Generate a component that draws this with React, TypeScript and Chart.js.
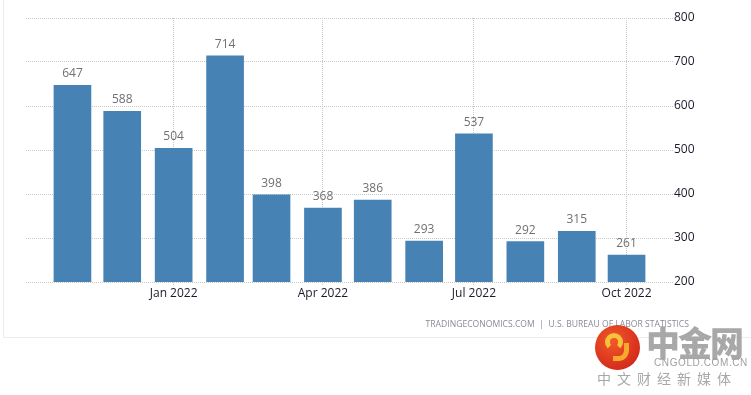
import React, { useEffect, useRef } from "react";
import { Chart, registerables } from "chart.js";

Chart.register(...registerables);

const months = ["2021-11", "2021-12", "2022-01", "2022-02", "2022-03", "2022-04", "2022-05", "2022-06", "2022-07", "2022-08", "2022-09", "2022-10"];
const values = [647, 588, 504, 714, 398, 368, 386, 293, 537, 292, 315, 261];
const tickMonths = ["2022-01", "2022-04", "2022-07", "2022-10"];
const tickLabels = ["Jan 2022", "Apr 2022", "Jul 2022", "Oct 2022"];
const yTicks = [200, 300, 400, 500, 600, 700, 800];
const sourceText = "TRADINGECONOMICS.COM  |  U.S. BUREAU OF LABOR STATISTICS";

const origin = Date.UTC(2021, 10, 1);
const dayOf = (m: string) => {
  const [y, mo] = m.split("-").map(Number);
  return Math.round((Date.UTC(y, mo - 1, 1) - origin) / 86400000);
};

const valueLabels = {
  id: "valueLabels",
  afterDatasetsDraw(chart: any) {
    const ctx = chart.ctx;
    const meta = chart.getDatasetMeta(0);
    ctx.save();
    ctx.font = "12px 'Open Sans', 'Noto Sans', sans-serif";
    ctx.fillStyle = "#707070";
    ctx.textAlign = "center";
    ctx.textBaseline = "alphabetic";
    meta.data.forEach((el: any, i: number) => {
      ctx.fillText(String(values[i]), el.x, el.y - 8);
    });
    ctx.restore();
  },
};

export default function App() {
  const ref = useRef<HTMLCanvasElement | null>(null);
  useEffect(() => {
    document.body.style.margin = "0";
    Chart.defaults.font.family = "'Open Sans', 'Noto Sans', sans-serif";
    const chart = new Chart(ref.current as HTMLCanvasElement, {
      type: "bar",
      data: {
        datasets: [
          {
            data: months.map((m, i) => ({ x: dayOf(m), y: values[i] })),
            backgroundColor: "#4682b4",
            barThickness: 37,
          },
        ],
      },
      options: {
        animation: false,
        responsive: false,
        events: [],
        layout: { padding: { left: 26, top: 18, right: 0, bottom: 0 } },
        plugins: { legend: { display: false }, tooltip: { enabled: false } },
        scales: {
          x: {
            type: "linear",
            min: -28,
            max: 362,
            offset: false,
            afterFit: (s: any) => {
              s.height = 113;
            },
            afterBuildTicks: (s: any) => {
              s.ticks = tickMonths.map((m) => ({ value: dayOf(m) }));
            },
            ticks: {
              autoSkip: false,
              maxRotation: 0,
              padding: 0,
              color: "#1a1a2a",
              font: { size: 12 },
              callback: (v: any) => {
                const idx = tickMonths.findIndex((m) => dayOf(m) === v);
                return idx >= 0 ? tickLabels[idx] : "";
              },
            },
            grid: {
              offset: false,
              color: "#c8c8c8",
              drawTicks: true,
              tickLength: 4,
              tickBorderDash: [1, 1],
            },
            border: { display: false, dash: [1, 1] },
          },
          y: {
            position: "right",
            min: 200,
            max: 800,
            afterFit: (s: any) => {
              s.width = 78;
            },
            afterBuildTicks: (s: any) => {
              s.ticks = yTicks.map((v) => ({ value: v }));
            },
            ticks: {
              padding: 1,
              color: "#1a1a2a",
              font: { size: 12 },
            },
            grid: { color: "#c8c8c8", drawTicks: false },
            border: { display: false, dash: [1, 1] },
          },
        },
      },
      plugins: [valueLabels],
    });
    return () => chart.destroy();
  }, []);

  return (
    <div style={{ position: "absolute", left: 0, top: 0, width: 751, height: 395, background: "#fff", overflow: "hidden" }}>
      <div style={{ position: "absolute", left: 3, top: -2, width: 800, height: 340, border: "1px solid #ececec", boxSizing: "border-box" }} />
      <canvas ref={ref} width={751} height={395} style={{ position: "absolute", left: 0, top: 0 }} />
      <div
        style={{
          position: "absolute",
          right: 62,
          top: 318,
          fontFamily: "'Open Sans', 'Noto Sans', sans-serif",
          fontSize: 8.6,
          letterSpacing: 0,
          color: "#8a8a98",
          whiteSpace: "pre",
        }}
      >
        {sourceText}
      </div>
      <div
        style={{
          position: "absolute",
          left: 595,
          top: 325,
          width: 45,
          height: 45,
          borderRadius: "50%",
          background: "radial-gradient(circle at 40% 35%, #f05a28, #d42a1c 75%)",
        }}
      >
        <div
          style={{
            position: "absolute",
            left: 10,
            top: 8,
            width: 18,
            height: 18,
            borderRadius: "50%",
            border: "5px solid #f7c23a",
            borderBottomColor: "transparent",
            boxSizing: "border-box",
          }}
        />
        <div
          style={{
            position: "absolute",
            left: 18,
            top: 18,
            width: 16,
            height: 18,
            borderRadius: "0 0 60% 0",
            borderRight: "5px solid #f7a82e",
            borderBottom: "5px solid #f7a82e",
            boxSizing: "border-box",
          }}
        />
      </div>
      <div
        style={{
          position: "absolute",
          left: 646,
          top: 322,
          fontFamily: "'Noto Sans CJK SC', sans-serif",
          fontWeight: 900,
          fontSize: 34,
          color: "#a8a8a8",
          letterSpacing: -2,
          whiteSpace: "nowrap",
          lineHeight: "40px",
        }}
      >
        中金网
      </div>
      <div
        style={{
          position: "absolute",
          left: 654,
          top: 357,
          fontFamily: "'Liberation Sans', sans-serif",
          fontSize: 10,
          color: "#a0a0a0",
          letterSpacing: 0.6,
          whiteSpace: "nowrap",
          lineHeight: "12px",
        }}
      >
        CNGOLD.COM.CN
      </div>
      <div
        style={{
          position: "absolute",
          left: 597,
          top: 369,
          fontFamily: "'Noto Sans CJK SC', sans-serif",
          fontSize: 14,
          color: "#a8a8a8",
          letterSpacing: 6,
          whiteSpace: "nowrap",
          lineHeight: "18px",
        }}
      >
        中文财经新媒体
      </div>
    </div>
  );
}
